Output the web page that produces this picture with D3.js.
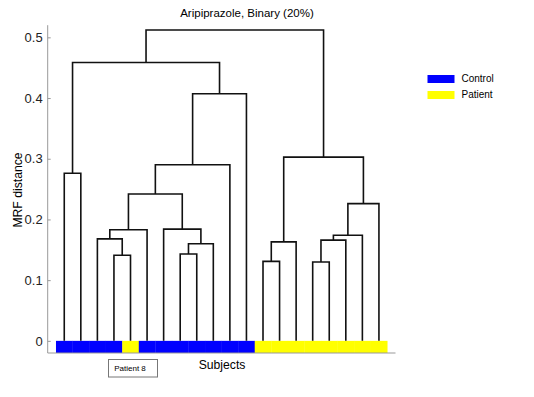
<!DOCTYPE html>
<html>
<head>
<meta charset="utf-8">
<script src="https://cdn.jsdelivr.net/npm/d3@7"></script>
<style>
  body { margin: 0; background: #fff; }
  text { font-family: "Liberation Sans", Arial, sans-serif; }
</style>
</head>
<body>
<div id="chart"></div>
<script>
// subjects in dendrogram order (leaf 0..19) and their group
var groups = ["Control", "Control", "Control", "Control", "Patient",
              "Control", "Control", "Control", "Control", "Control", "Control", "Control",
              "Patient", "Patient", "Patient", "Patient", "Patient", "Patient", "Patient", "Patient"];
// linkage rows: [childA, childB, height]; ids >= 20 refer to earlier merges (20 + row)
var merges = [
    [0, 1, 0.276],     // 20
    [3, 4, 0.141],     // 21
    [2, 21, 0.168],    // 22
    [22, 5, 0.183],    // 23
    [7, 8, 0.143],     // 24
    [24, 9, 0.160],    // 25
    [6, 25, 0.184],    // 26
    [23, 26, 0.242],   // 27
    [27, 10, 0.290],   // 28
    [28, 11, 0.407],   // 29
    [20, 29, 0.4585],  // 30
    [12, 13, 0.131],   // 31
    [31, 14, 0.163],   // 32
    [15, 16, 0.130],   // 33
    [33, 17, 0.166],   // 34
    [34, 18, 0.174],   // 35
    [35, 19, 0.226],   // 36
    [32, 36, 0.3026],  // 37
    [30, 37, 0.512]    // 38
];
var yTicks = [0, 0.1, 0.2, 0.3, 0.4, 0.5];
var legendItems = ["Control", "Patient"];
var colors = {Control: "#0000ff", Patient: "#ffff00"};

var width = 534, height = 397;
var svg = d3.select("#chart").append("svg").attr("width", width).attr("height", height);

var x = d3.scaleLinear().domain([0, 21]).range([47.7, 395.5]);
var y = d3.scaleLinear().domain([-0.02, 0.52]).range([353, 25.2]);

var n = groups.length;
// position and height for each node
var nodeX = [], nodeH = [];
for (var i = 0; i < n; i++) { nodeX[i] = x(i + 1); nodeH[i] = 0; }
merges.forEach(function (m, k) {
    nodeX[n + k] = (nodeX[m[0]] + nodeX[m[1]]) / 2;
    nodeH[n + k] = m[2];
});

// colour strip
var cellW = x(1) - x(0);
svg.selectAll("rect.cell").data(groups).enter().append("rect")
    .attr("class", "cell")
    .attr("x", function (d, i) { return x(i + 1) - cellW / 2; })
    .attr("y", y(0))
    .attr("width", cellW + 0.3)
    .attr("height", y(-0.02) - y(0))
    .attr("fill", function (d) { return colors[d]; });

// axes
var yAxis = d3.axisLeft(y).tickValues(yTicks).tickSize(-3).tickPadding(5)
    .tickFormat(function (d) { return d === 0 ? "0" : d3.format(".1f")(d); });
var gy = svg.append("g").attr("transform", "translate(" + x(0) + ",0)").call(yAxis);
gy.select(".domain").attr("stroke", "#999").attr("d", "M0," + y(0.52) + "V" + y(-0.02));
gy.selectAll(".tick line").attr("stroke", "#999");
gy.selectAll(".tick text").attr("font-size", 13).attr("fill", "#222")
    .attr("font-family", "Liberation Sans, Arial, sans-serif");

svg.append("line")
    .attr("x1", x(0)).attr("x2", x(21))
    .attr("y1", y(-0.02)).attr("y2", y(-0.02))
    .attr("stroke", "#999");

// dendrogram links
svg.selectAll("path.link").data(merges).enter().append("path")
    .attr("class", "link")
    .attr("fill", "none")
    .attr("stroke", "#111")
    .attr("stroke-width", 1.6)
    .attr("d", function (m) {
        var a = m[0], b = m[1];
        return "M" + nodeX[a] + "," + y(nodeH[a]) +
               "V" + y(m[2]) + "H" + nodeX[b] + "V" + y(nodeH[b]);
    });

// texts
svg.append("text").attr("x", 247).attr("y", 17).attr("text-anchor", "middle")
    .attr("font-size", 11.5).text("Aripiprazole, Binary (20%)");
svg.append("text").attr("x", 222).attr("y", 369).attr("text-anchor", "middle")
    .attr("font-size", 12.2).text("Subjects");
svg.append("text").attr("transform", "translate(21.5,190) rotate(-90)")
    .attr("text-anchor", "middle").attr("font-size", 12.2).text("MRF distance");

// patient annotation
svg.append("rect").attr("x", 108.5).attr("y", 359.5).attr("width", 49).attr("height", 17.5)
    .attr("fill", "#fff").attr("stroke", "#777").attr("stroke-width", 1);
svg.append("text").attr("x", 130).attr("y", 371).attr("text-anchor", "middle")
    .attr("font-size", 8).text("Patient 8");

// legend
var lg = svg.selectAll("g.legend").data(legendItems).enter().append("g")
    .attr("class", "legend")
    .attr("transform", function (d, i) { return "translate(427.5," + (75 + i * 16) + ")"; });
lg.append("rect").attr("width", 27).attr("height", 8)
    .attr("fill", function (d) { return colors[d]; });
lg.append("text").attr("x", 34).attr("y", 6.8).attr("font-size", 10).text(function (d) { return d; });
</script>
</body>
</html>
